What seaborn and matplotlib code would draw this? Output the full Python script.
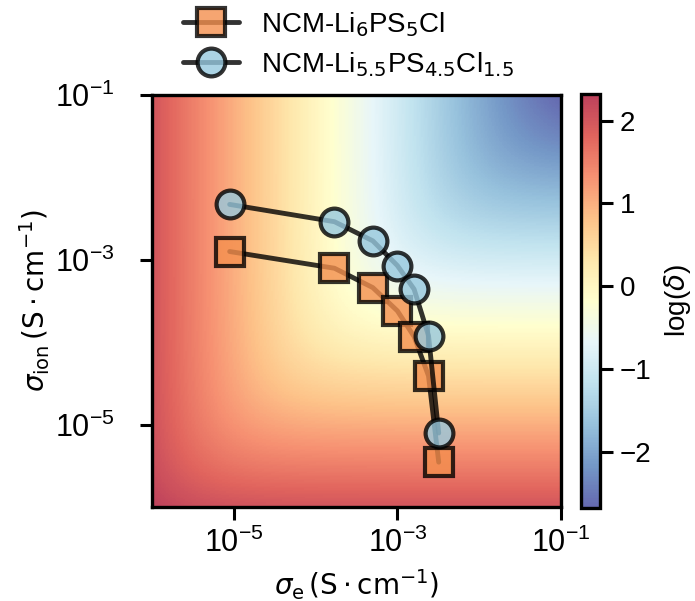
import numpy as np
import pandas as pd
import matplotlib
matplotlib.use("Agg")
import matplotlib.pyplot as plt
from matplotlib.ticker import NullLocator
import seaborn as sns

# ---- data ----
sigma_e = [8.9e-6, 1.7e-4, 5.0e-4, 1.0e-3, 1.6e-3, 2.4e-3, 3.2e-3]
sigma_ion_li6 = [1.26e-3, 7.9e-4, 4.6e-4, 2.4e-4, 1.17e-4, 3.9e-5, 3.5e-6]
sigma_ion_li55 = [4.7e-3, 2.9e-3, 1.7e-3, 8.5e-4, 4.4e-4, 1.2e-4, 7.9e-6]
labels = [r"NCM-Li$_6$PS$_5$Cl", r"NCM-Li$_{5.5}$PS$_{4.5}$Cl$_{1.5}$"]
x_ticks = [1e-5, 1e-3, 1e-1]
y_ticks = [1e-5, 1e-3, 1e-1]
cbar_ticks = [-2, -1, 0, 1, 2]
# background map: log(delta) with delta = k * (1/sigma_e + 1/sigma_ion)
log_k = -3.98
log_range = (-6, -1)

sns.set_style("ticks")
plt.rcParams["font.family"] = ["Liberation Sans", "DejaVu Sans"]
plt.rcParams["font.size"] = 20
for key in ["text.color", "axes.labelcolor", "xtick.color", "ytick.color",
            "axes.edgecolor"]:
    plt.rcParams[key] = "black"

fig = plt.figure(figsize=(6.95, 6.01), dpi=100)
ax = fig.add_axes([152 / 695, 1 - 507 / 601, 409 / 695, 412 / 601])
cax = fig.add_axes([581 / 695, 1 - 508 / 601, 19 / 695, 414 / 601])

lg = np.linspace(log_range[0], log_range[1], 301)
SE, SI = np.meshgrid(10.0 ** lg, 10.0 ** lg)
Z = log_k + np.log10(1.0 / SE + 1.0 / SI)
mesh = ax.pcolormesh(SE, SI, Z, cmap="RdYlBu_r", alpha=0.75, shading="nearest",
                     vmin=Z.min(), vmax=Z.max(), rasterized=True, linewidth=0)

df = pd.DataFrame({"se": sigma_e, "a": sigma_ion_li6, "b": sigma_ion_li55})
common = dict(color="black", lw=3.5, markersize=20, markeredgewidth=3,
              markeredgecolor="black", alpha=0.8, sort=False, ax=ax)
sns.lineplot(data=df, x="se", y="a", marker="s", markerfacecolor="#f48f4e",
             label=labels[0], **common)
sns.lineplot(data=df, x="se", y="b", marker="o", markerfacecolor="#96c8de",
             label=labels[1], **common)

ax.set_xscale("log")
ax.set_yscale("log")
ax.set_xlim(10.0 ** log_range[0], 10.0 ** log_range[1])
ax.set_ylim(10.0 ** log_range[0], 10.0 ** log_range[1])
ax.set_xticks(x_ticks)
ax.set_yticks(y_ticks)
ax.xaxis.set_minor_locator(NullLocator())
ax.yaxis.set_minor_locator(NullLocator())
ax.tick_params(which="major", length=9, width=2.2, direction="out", labelsize=22)
ax.tick_params(axis="x", pad=6)
ax.tick_params(axis="y", pad=18)
for s in ax.spines.values():
    s.set_linewidth(2.4)
    s.set_color("black")
ax.set_xlabel(r"$\sigma_\mathrm{e}\,(\mathrm{S\cdot cm^{-1}})$", fontsize=20, labelpad=6)
ax.set_ylabel(r"$\sigma_\mathrm{ion}\,(\mathrm{S\cdot cm^{-1}})$", fontsize=20, labelpad=2)

leg = ax.legend(loc="lower center", bbox_to_anchor=(0.48, 1.013), frameon=False,
                fontsize=20, handlelength=2.0, borderaxespad=0.0, labelspacing=0.4,
                handletextpad=0.8)

cb = fig.colorbar(mesh, cax=cax)
cb.set_ticks(cbar_ticks)
cb.outline.set_linewidth(2.4)
cb.ax.tick_params(length=9, width=2.2, labelsize=20, colors="black", pad=5)
cb.set_label(r"log($\delta$)", fontsize=20, labelpad=8)

fig.savefig("out.png", dpi=100)
